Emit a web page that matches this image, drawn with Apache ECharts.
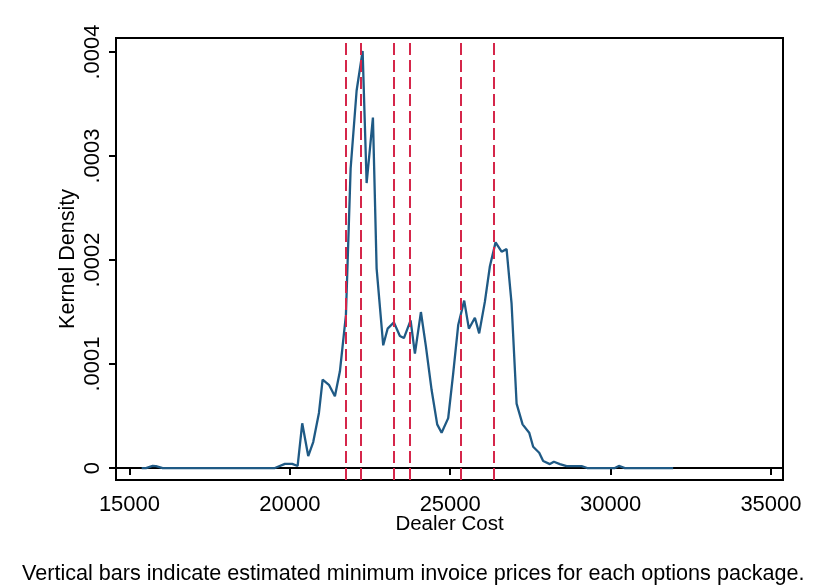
<!DOCTYPE html>
<html>
<head>
<meta charset="utf-8">
<script src="https://cdn.jsdelivr.net/npm/echarts@6/dist/echarts.min.js"></script>
<style>
  html, body { margin: 0; padding: 0; background: #fff; }
  #chart { width: 819px; height: 587px; }
</style>
</head>
<body>
<div id="chart"></div>
<script>
// dealer cost grid points of the density estimate
const dealerCost = [
  15380, 15514, 15723, 15826, 16035, 19535, 19847, 20074, 20243, 20386,
  20573, 20729, 20907, 21022, 21218, 21405, 21561, 21748, 21895, 22082,
  22269, 22394, 22590, 22705, 22911, 23048, 23245, 23431, 23556, 23765,
  23899, 24086, 24242, 24420, 24594, 24731, 24937, 25093, 25249, 25436,
  25582, 25769, 25903, 26081, 26237, 26414, 26601, 26757, 26913, 27069,
  27256, 27462, 27586, 27774, 27898, 28107, 28232, 28419, 28628, 29095,
  29270, 30133, 30258, 30445, 31950
];
// kernel density values
const density = [
  0, 0, 0.0000020, 0.0000019, 0, 0, 0.0000040, 0.0000040, 0.0000020, 0.0000430,
  0.0000115, 0.0000250, 0.0000530, 0.0000850, 0.0000800, 0.0000690, 0.0000930, 0.0001470, 0.0002880, 0.0003630,
  0.0004010, 0.0002740, 0.0003370, 0.0001920, 0.0001180, 0.0001340, 0.0001400, 0.0001270, 0.0001250, 0.0001420,
  0.0001100, 0.0001500, 0.0001170, 0.0000750, 0.0000420, 0.0000340, 0.0000480, 0.0000910, 0.0001375, 0.0001610,
  0.0001340, 0.0001445, 0.0001295, 0.0001600, 0.0001940, 0.0002170, 0.0002080, 0.0002105, 0.0001580, 0.0000620,
  0.0000420, 0.0000340, 0.0000205, 0.0000147, 0.0000067, 0.0000038, 0.0000060, 0.0000038, 0.0000019, 0.0000019,
  0, 0, 0.0000020, 0, 0
];
// estimated minimum invoice prices (vertical bars)
const invoiceMins = [21749, 22195, 23245, 23753, 25324, 26353];

const xTicks = [15000, 20000, 25000, 30000, 35000];
const yTicks = [0, 0.0001, 0.0002, 0.0003, 0.0004];

const chart = echarts.init(document.getElementById('chart'));
const font = 'Liberation Sans';

chart.setOption({
  backgroundColor: '#fff',
  animation: false,
  title: {
    text: 'Vertical bars indicate estimated minimum invoice prices for each options package.',
    left: 22,
    top: 563,
    padding: 0,
    textStyle: { fontFamily: font, fontSize: 21.6, fontWeight: 'normal', color: '#000' }
  },
  grid: {
    left: 116, right: 36, top: 38, bottom: 107,
    show: true, borderColor: '#000', borderWidth: 2, backgroundColor: '#fff'
  },
  xAxis: {
    type: 'value',
    min: 14580,
    max: 35375,
    name: 'Dealer Cost',
    nameLocation: 'middle',
    nameGap: 34,
    nameMoveOverlap: false,
    nameTextStyle: { fontFamily: font, fontSize: 20.5, color: '#000' },
    splitLine: { show: false },
    axisLine: { show: true, lineStyle: { color: '#000', width: 2 } },
    axisTick: { show: true, length: 7, customValues: xTicks, lineStyle: { color: '#000', width: 2 } },
    axisLabel: {
      customValues: xTicks,
      margin: 14,
      fontFamily: font, fontSize: 22, color: '#000',
      formatter: v => String(v)
    }
  },
  yAxis: {
    type: 'value',
    min: -0.0000115,
    max: 0.0004135,
    name: 'Kernel Density',
    nameLocation: 'middle',
    nameRotate: 90,
    nameGap: 37,
    nameMoveOverlap: false,
    nameTextStyle: { fontFamily: font, fontSize: 21.5, color: '#000' },
    splitLine: { show: false },
    axisLine: { show: true, lineStyle: { color: '#000', width: 2 } },
    axisTick: { show: true, length: 7, customValues: yTicks, lineStyle: { color: '#000', width: 2 } },
    axisLabel: {
      customValues: yTicks,
      rotate: 90,
      margin: 12,
      fontFamily: font, fontSize: 22, color: '#000',
      formatter: v => v === 0 ? '0' : v.toFixed(4).replace(/^0/, '')
    }
  },
  series: [{
    type: 'line',
    data: dealerCost.map((c, i) => [c, density[i]]),
    showSymbol: false,
    lineStyle: { color: '#1f5a85', width: 2.3 },
    markLine: {
      silent: true,
      symbol: 'none',
      label: { show: false },
      lineStyle: { color: '#d5264a', width: 2, type: [12, 5] },
      data: invoiceMins.map(v => ({ xAxis: v }))
    },
    z: 3
  }]
});
</script>
</body>
</html>
